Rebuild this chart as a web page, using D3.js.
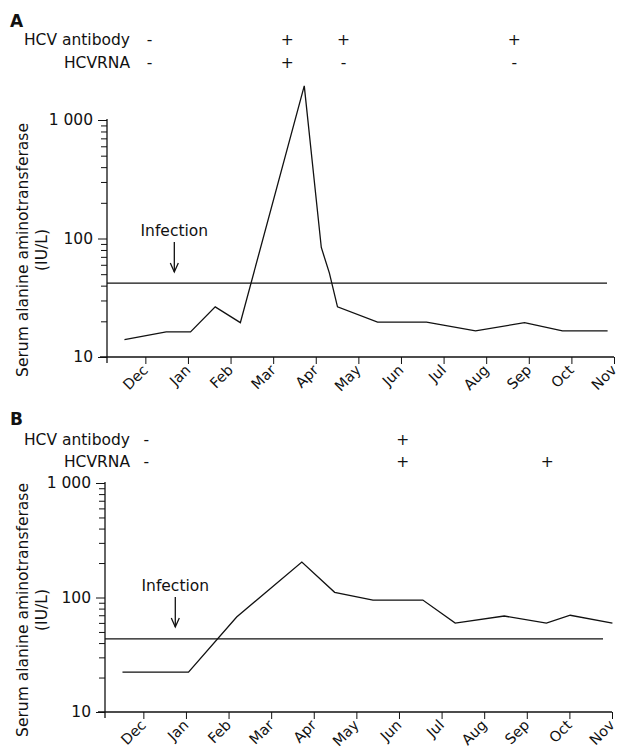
<!DOCTYPE html>
<html>
<head>
<meta charset="utf-8">
<script src="https://cdn.jsdelivr.net/npm/d3@7"></script>
<style>
  body { margin: 0; background: #fff; }
  text { font-family: "DejaVu Sans", Verdana, sans-serif; fill: #111; }
</style>
</head>
<body>
<script>
// month categories on the x axis (Dec = 0 ... Nov = 11)
var months = ["Dec", "Jan", "Feb", "Mar", "Apr", "May", "Jun", "Jul", "Aug", "Sep", "Oct", "Nov"];
var yTickVals = [10, 100, 1000];
var yTickLabels = ["10", "100", "1 000"];
var rowNames = ["HCV antibody", "HCVRNA"];

// panel A: ALT readings (x = month position, Dec = 0)
var aMonthPos = [-0.49, 0.49, 1.06, 1.64, 2.23, 3.73, 4.13, 4.32, 4.51, 5.45, 6.60, 7.75, 8.90, 9.79, 10.85];
var aALT = [14, 16.3, 16.3, 26.5, 19.5, 1940, 84, 51, 26.5, 19.7, 19.7, 16.6, 19.5, 16.6, 16.6];
var aRefALT = 42;
var aInfection = 0.68;
var aAntibodyPos = [0.1, 3.33, 4.65, 8.66];
var aAntibodySign = ["-", "+", "+", "+"];
var aRnaPos = [0.1, 3.33, 4.65, 8.66];
var aRnaSign = ["-", "+", "-", "-"];

// panel B
var bMonthPos = [-0.49, 1.06, 2.19, 3.72, 4.49, 5.39, 6.56, 7.32, 8.47, 9.46, 10.02, 11.01];
var bALT = [22.3, 22.3, 67.6, 204, 111, 95, 95, 59.8, 68.9, 59.8, 70, 59.8];
var bRefALT = 43.5;
var bInfection = 0.75;
var bAntibodyPos = [0.07, 6.09];
var bAntibodySign = ["-", "+"];
var bRnaPos = [0.07, 6.09, 9.48];
var bRnaSign = ["-", "+", "+"];

var width = 620, height = 751;

var svg = d3.select("body")
    .append("svg")
    .attr("width", width)
    .attr("height", height);

// layout of each panel
var panels = [
    {
        letter: "A", letterY: 27, rowY: [45, 68],
        left: 107, right: 614, top: 120, bottom: 357,
        refEnd: 607, titleY: 250,
        infTextY: 236, arrowTop: 242, arrowBottom: 272,
        pos: aMonthPos, alt: aALT, ref: aRefALT, inf: aInfection,
        rows: [[aAntibodyPos, aAntibodySign], [aRnaPos, aRnaSign]]
    },
    {
        letter: "B", letterY: 425, rowY: [445, 467],
        left: 105, right: 612, top: 483, bottom: 712,
        refEnd: 603, titleY: 610,
        infTextY: 591, arrowTop: 597, arrowBottom: 627,
        pos: bMonthPos, alt: bALT, ref: bRefALT, inf: bInfection,
        rows: [[bAntibodyPos, bAntibodySign], [bRnaPos, bRnaSign]]
    }
];

panels.forEach(function(p) {
    var g = svg.append("g");

    var x = d3.scaleLinear()
        .domain([-0.9, 11])
        .range([p.left, p.right]);

    var y = d3.scaleLog()
        .domain([10, 1000])
        .range([p.bottom, p.top]);

    // panel letter
    g.append("text")
        .attr("x", 10)
        .attr("y", p.letterY)
        .style("font-size", "17px")
        .style("font-weight", "bold")
        .text(p.letter);

    // antibody / RNA rows
    p.rows.forEach(function(row, i) {
        g.append("text")
            .attr("x", 130)
            .attr("y", p.rowY[i])
            .attr("text-anchor", "end")
            .style("font-size", "15.5px")
            .text(rowNames[i]);

        g.selectAll(".sign" + i)
            .data(row[0])
            .enter()
            .append("text")
            .attr("x", function(d) { return x(d); })
            .attr("y", p.rowY[i])
            .attr("text-anchor", "middle")
            .style("font-size", "15.5px")
            .text(function(d, j) { return row[1][j]; });
    });

    // y axis (log, with minor ticks)
    var yAxis = g.append("g")
        .attr("transform", "translate(" + p.left + ",0)")
        .call(d3.axisLeft(y)
            .tickValues(y.ticks())
            .tickSize(6)
            .tickFormat(function(d) {
                var k = yTickVals.indexOf(d);
                return k < 0 ? "" : yTickLabels[k];
            }));
    yAxis.select(".domain").remove();
    yAxis.selectAll(".tick")
        .filter(function(d) { return yTickVals.indexOf(d) >= 0; })
        .select("line").attr("x2", -9);
    yAxis.selectAll(".tick text")
        .attr("x", -14)
        .style("font-size", "15.5px")
        .style("font-family", "DejaVu Sans, sans-serif");
    yAxis.selectAll("line").attr("stroke", "#111");

    g.append("line")
        .attr("x1", p.left).attr("x2", p.left)
        .attr("y1", y(1000) - 1).attr("y2", p.bottom + 6)
        .attr("stroke", "#111").attr("stroke-width", 1.3);

    // x axis
    var xAxis = g.append("g")
        .attr("transform", "translate(0," + p.bottom + ")")
        .call(d3.axisBottom(x)
            .tickValues(d3.range(months.length))
            .tickSize(7)
            .tickFormat(function(d) { return months[d]; }));
    xAxis.select(".domain").remove();
    xAxis.selectAll("line").attr("stroke", "#111");
    xAxis.selectAll(".tick text")
        .attr("y", 0)
        .attr("dy", null)
        .attr("text-anchor", "end")
        .attr("transform", "translate(3,14) rotate(-45)")
        .style("font-size", "14.5px")
        .style("font-family", "DejaVu Sans, sans-serif");

    g.append("line")
        .attr("x1", p.left - 7).attr("x2", p.right)
        .attr("y1", p.bottom).attr("y2", p.bottom)
        .attr("stroke", "#111").attr("stroke-width", 1.3);

    // axis title
    var title = g.append("text")
        .attr("transform", "translate(28," + p.titleY + ") rotate(-90)")
        .attr("text-anchor", "middle")
        .style("font-size", "15.5px");
    title.append("tspan").attr("x", 0).attr("y", 0).text("Serum alanine aminotransferase");
    title.append("tspan").attr("x", 0).attr("y", 19).text("(IU/L)");

    // upper limit of normal
    g.append("line")
        .attr("x1", p.left).attr("x2", p.refEnd)
        .attr("y1", y(p.ref)).attr("y2", y(p.ref))
        .attr("stroke", "#111").attr("stroke-width", 1.1);

    // infection marker
    var ix = x(p.inf);
    g.append("text")
        .attr("x", ix)
        .attr("y", p.infTextY)
        .attr("text-anchor", "middle")
        .style("font-size", "15.5px")
        .text("Infection");
    g.append("line")
        .attr("x1", ix).attr("x2", ix)
        .attr("y1", p.arrowTop).attr("y2", p.arrowBottom)
        .attr("stroke", "#111").attr("stroke-width", 1.3);
    g.append("path")
        .attr("d", "M" + (ix - 4) + "," + (p.arrowBottom - 9) + "L" + ix + "," + p.arrowBottom + "L" + (ix + 4) + "," + (p.arrowBottom - 9))
        .attr("fill", "none")
        .attr("stroke", "#111").attr("stroke-width", 1.3);

    // ALT curve
    var line = d3.line()
        .x(function(d, i) { return x(p.pos[i]); })
        .y(function(d) { return y(d); });

    g.append("path")
        .datum(p.alt)
        .attr("d", line)
        .attr("fill", "none")
        .attr("stroke", "#111")
        .attr("stroke-width", 1.3);
});
</script>
</body>
</html>
